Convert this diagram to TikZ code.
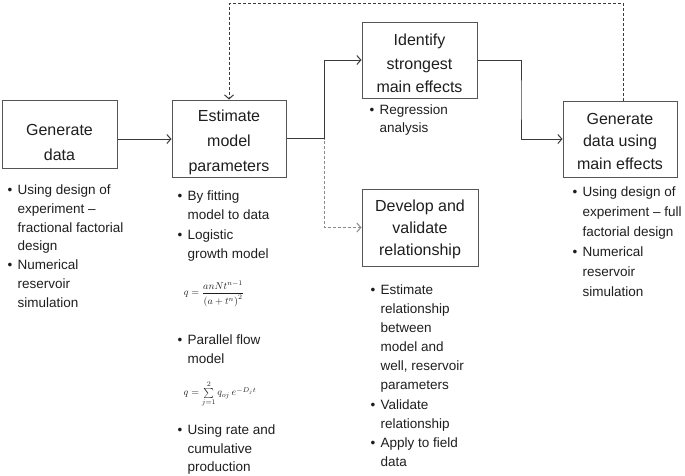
\documentclass[tikz,border=0pt]{standalone}
\usepackage{amsmath}
\usepackage{fontspec}
\setmainfont{Liberation Sans}
\usetikzlibrary{arrows.meta}
\definecolor{boxgray}{HTML}{555555}
\definecolor{linegray}{HTML}{3A3A3A}
\definecolor{dashlight}{HTML}{8A8A8A}
\definecolor{txt}{HTML}{1E1E1E}
\newcommand\bl{\makebox[10pt][l]{\textbullet}}
\newcommand\ind{\hspace*{10pt}}
\begin{document}
\begin{tikzpicture}[x=1pt,y=-1pt,
  stepbox/.style={draw=boxgray,line width=1pt,inner sep=0pt},
  title/.style={align=center,inner sep=0pt,text=txt,font=\fontsize{16}{23.5}\selectfont},
  blist/.style={anchor=north west,align=left,inner sep=0pt,text=txt},
  conn/.style={draw=linegray,line width=1pt,-{Straight Barb[length=4pt,width=9pt]}},
  fb/.style={conn,dash pattern=on 3pt off 2pt},
  fblight/.style={conn,draw=dashlight,dash pattern=on 3pt off 2pt},
  formula/.style={inner sep=0pt,text=txt,font=\fontsize{10}{11}\selectfont}]
\useasboundingbox (0,0) rectangle (685,475);
% boxes
\node[stepbox,minimum width=115pt,minimum height=68pt] (gen) at (59.5,134) {};
\node[stepbox,minimum width=114pt,minimum height=77pt] (est) at (229,138.5) {};
\node[stepbox,minimum width=115pt,minimum height=76pt] (ide) at (419.5,60) {};
\node[stepbox,minimum width=116pt,minimum height=77pt] (dev) at (420,227.5) {};
\node[stepbox,minimum width=114pt,minimum height=76pt] (gmain) at (620,139) {};
% box titles
\node[title,font=\fontsize{16}{25}\selectfont] (gent) at ([yshift=-8pt]gen.center) {Generate\\data};
\node[title,font=\fontsize{16}{25}\selectfont] (estt) at ([yshift=-4pt]est.center) {Estimate\\model\\parameters};
\node[title] (idet) at ([yshift=-3.5pt]ide.center) {Identify\\strongest\\main effects};
\node[title,font=\fontsize{16}{22}\selectfont] (devt) at ([yshift=-1.5pt]dev.center) {Develop and\\validate\\relationship};
\node[title,font=\fontsize{16}{22.5}\selectfont] (gmaint) at ([yshift=-2pt]gmain.center) {Generate\\data using\\main effects};
% junctions
\coordinate (g1) at ([yshift=-5pt]gen.east);
\coordinate (j1) at (324,138.5);
\coordinate (j2) at (521,100);
\coordinate (top) at (0,3);
\coordinate (fbstart) at ([xshift=3pt]gmain.north);
% connectors
\draw[conn] (g1) -- (g1 -| est.west);
\draw[fblight] (est.east) -- (j1) |- (dev.west);
\draw[conn] (est.east) -- (j1) |- (ide.west);
\draw[conn] (ide.east) -| (j2) |- (gmain.west);
\draw[fb] (fbstart) -- (fbstart |- top) -| (est.north);
% bullet lists
\begin{scope}[every node/.append style={font=\fontsize{13.5}{18.8}\selectfont}]
\node[blist] (genl) at (7.5,184.5) {\bl Using design of\\ \ind experiment --\\ \ind fractional factorial\\ \ind design\\ \bl Numerical\\ \ind reservoir\\ \ind simulation};
\end{scope}
\begin{scope}[every node/.append style={font=\fontsize{13.5}{19.5}\selectfont}]
\node[blist] (estl1) at (177.5,190.5) {\bl By fitting\\ \ind model to data\\ \bl Logistic\\ \ind growth model};
\node[blist] (estl2) at (177.5,334.5) {\bl Parallel flow\\ \ind model};
\end{scope}
\begin{scope}[every node/.append style={font=\fontsize{13.5}{18.5}\selectfont}]
\node[blist] (estl3) at (177.5,425) {\bl Using rate and\\ \ind cumulative\\ \ind production};
\end{scope}
\node[formula] (f1) at (214,294) {$q=\dfrac{a n N t^{n-1}}{\left(a+t^{n}\right)^{2}}$};
\node[formula] (f2) at (220,394) {$q=\sum\limits_{j=1}^{2} q_{oj}\,e^{-D_j t}$};
\begin{scope}[every node/.append style={font=\fontsize{13.5}{18}\selectfont}]
\node[blist] (idel) at (369.5,104.5) {\bl Regression\\ \ind analysis};
\end{scope}
\begin{scope}[every node/.append style={font=\fontsize{13.5}{19.1}\selectfont}]
\node[blist] (devl) at (370.5,284.5) {\bl Estimate\\ \ind relationship\\ \ind between\\ \ind model and\\ \ind well, reservoir\\ \ind parameters\\ \bl Validate\\ \ind relationship\\ \bl Apply to field\\ \ind data};
\end{scope}
\begin{scope}[every node/.append style={font=\fontsize{13.5}{20}\selectfont}]
\node[blist] (gmainl) at (572.5,186.5) {\bl Using design of\\ \ind experiment -- full\\ \ind factorial design\\ \bl Numerical\\ \ind reservoir\\ \ind simulation};
\end{scope}
\end{tikzpicture}
\end{document}
